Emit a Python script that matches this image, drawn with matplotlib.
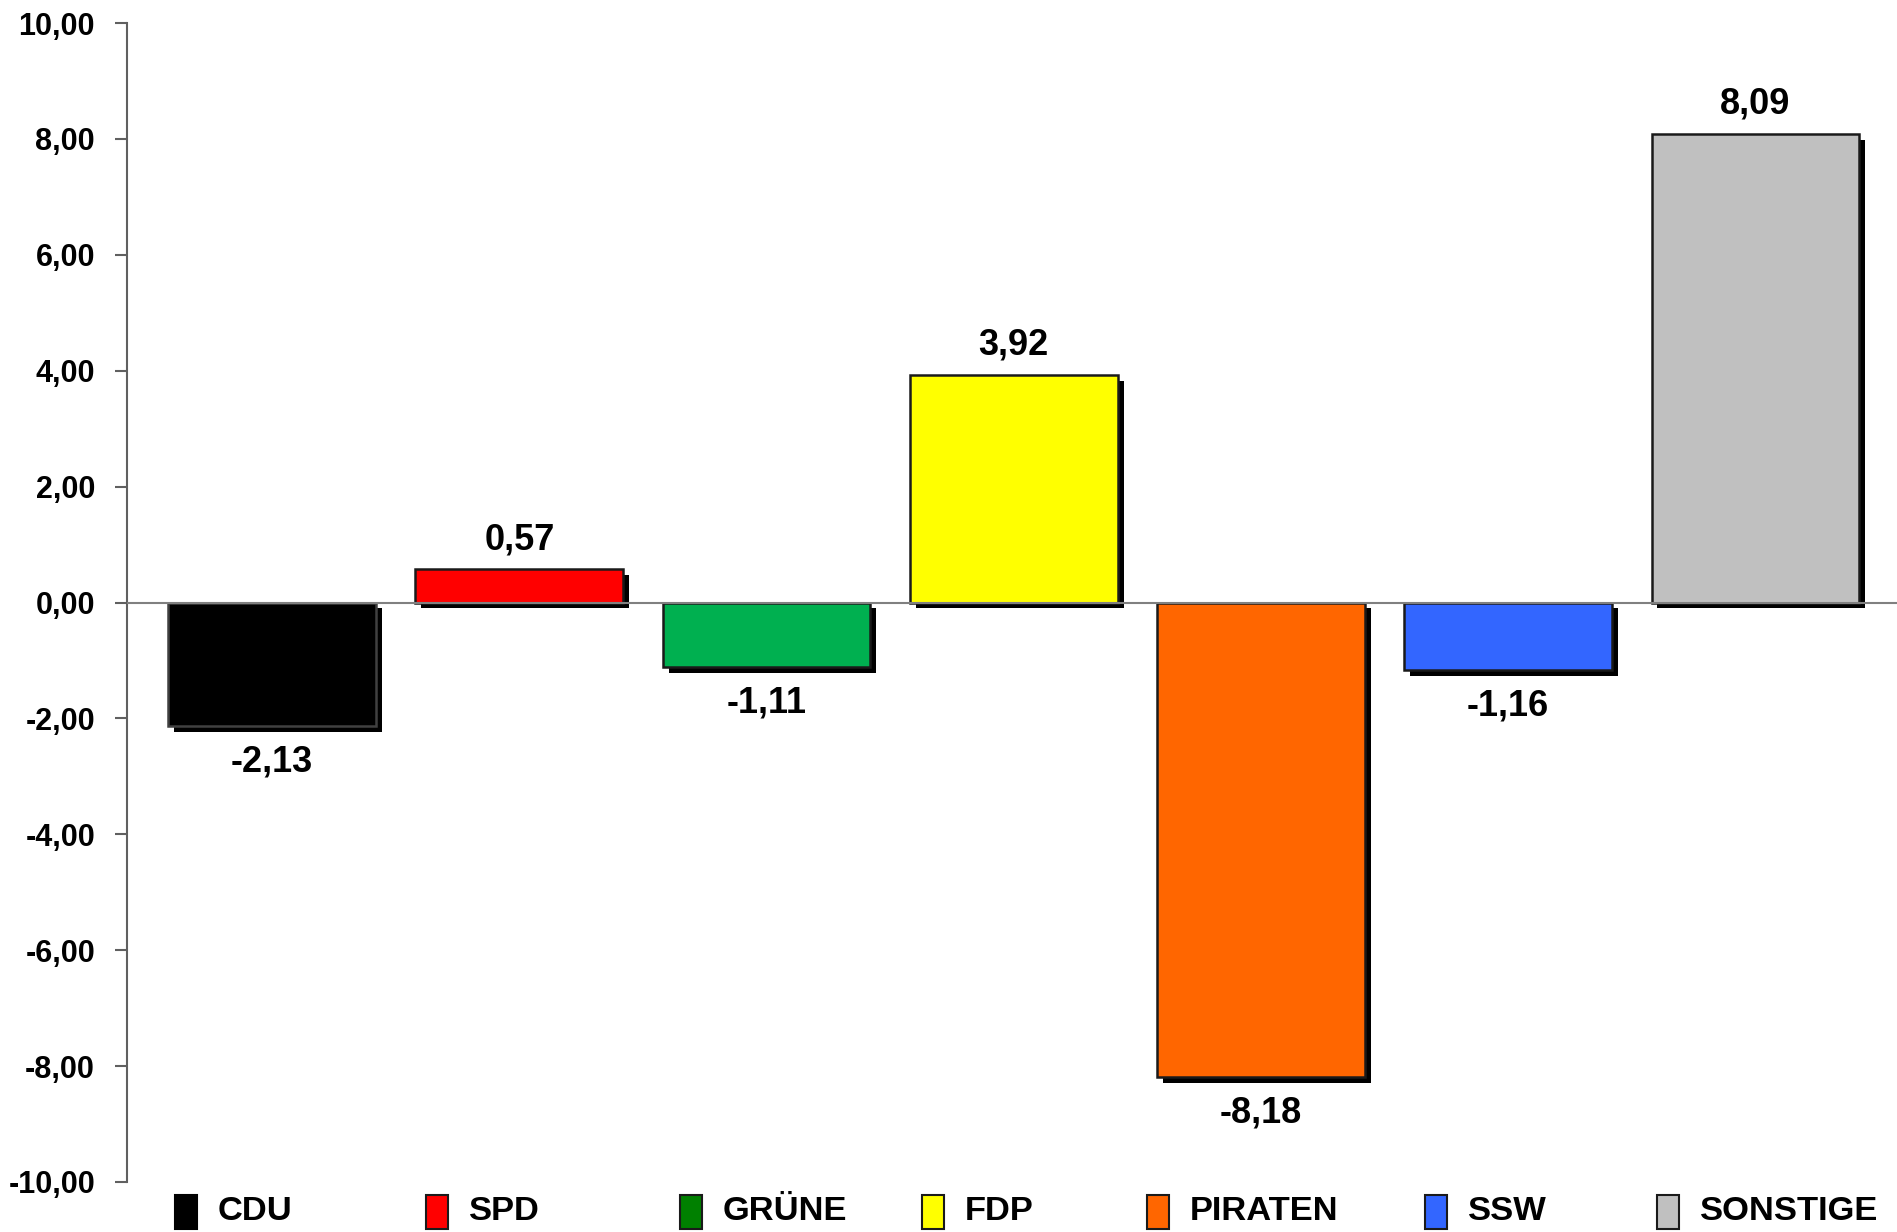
import matplotlib
matplotlib.use("Agg")
import matplotlib.pyplot as plt
import matplotlib.patheffects as pe
from matplotlib.patches import Rectangle
from matplotlib.ticker import FuncFormatter

parties = ["CDU", "SPD", "GRÜNE", "FDP", "PIRATEN", "SSW", "SONSTIGE"]
changes = [-2.13, 0.57, -1.11, 3.92, -8.18, -1.16, 8.09]
bar_colors = ["#000000", "#FF0000", "#00B050", "#FFFF00", "#FF6600", "#3366FF", "#C0C0C0"]
legend_colors = ["#000000", "#FF0000", "#008000", "#FFFF00", "#FF6600", "#3366FF", "#C0C0C0"]
yticks = [-10, -8, -6, -4, -2, 0, 2, 4, 6, 8, 10]

plt.rcParams["font.family"] = ["Liberation Sans", "DejaVu Sans"]
plt.rcParams["font.weight"] = "bold"

W, H = 1897, 1232
fig = plt.figure(figsize=(W / 100, H / 100), dpi=100)
ax = fig.add_axes([127 / W, 1 - 1182 / H, 1 - 127 / W, (1182 - 23) / H])

x = list(range(len(parties)))
shadow = [pe.SimplePatchShadow(offset=(4.3, -4.3), shadow_rgbFace="black", alpha=1.0), pe.Normal()]
bars = ax.bar(x, changes, width=0.84, color=bar_colors, zorder=3)
for b, c in zip(bars, bar_colors):
    b.set_edgecolor("#404040" if c == "#000000" else "#1a1a1a")
    b.set_linewidth(1.8)
    b.set_path_effects(shadow)

# value labels
for xi, v in zip(x, changes):
    off = 21.5 if v >= 0 else -26
    ax.annotate(f"{v:.2f}".replace(".", ","), (xi, v), xytext=(0, off),
                textcoords="offset points", ha="center", va="center",
                fontsize=26, fontweight="bold", zorder=5)

ax.axhline(0, color="#808080", lw=1.5, zorder=4)
ax.set_xlim(-0.587, 6.573)
ax.set_ylim(-10, 10)
ax.set_yticks(yticks)
ax.yaxis.set_major_formatter(FuncFormatter(lambda v, p: f"{v:.2f}".replace(".", ",")))
ax.tick_params(axis="y", length=9, width=1.5, color="#606060", pad=14, labelsize=22)
ax.set_xticks([])
for s in ["top", "right", "bottom"]:
    ax.spines[s].set_visible(False)
ax.spines["left"].set_color("#606060")
ax.spines["left"].set_linewidth(1.5)
for lab in ax.get_yticklabels():
    lab.set_fontweight("bold")

# legend row along the bottom
patch_left = [175, 426, 680, 922, 1147, 1425, 1657]
for px, name, col in zip(patch_left, parties, legend_colors):
    fig.patches.append(Rectangle((px / W, 1 - 1229 / H), 22 / W, 34 / H,
                                 transform=fig.transFigure, facecolor=col,
                                 edgecolor=col if col == "#000000" else "#1a1a1a", lw=1.5))
    fig.text((px + 43) / W, 1 - 1211 / H, name, ha="left", va="center",
             fontsize=24.8, fontweight="bold")

fig.savefig("out.png", dpi=100)
